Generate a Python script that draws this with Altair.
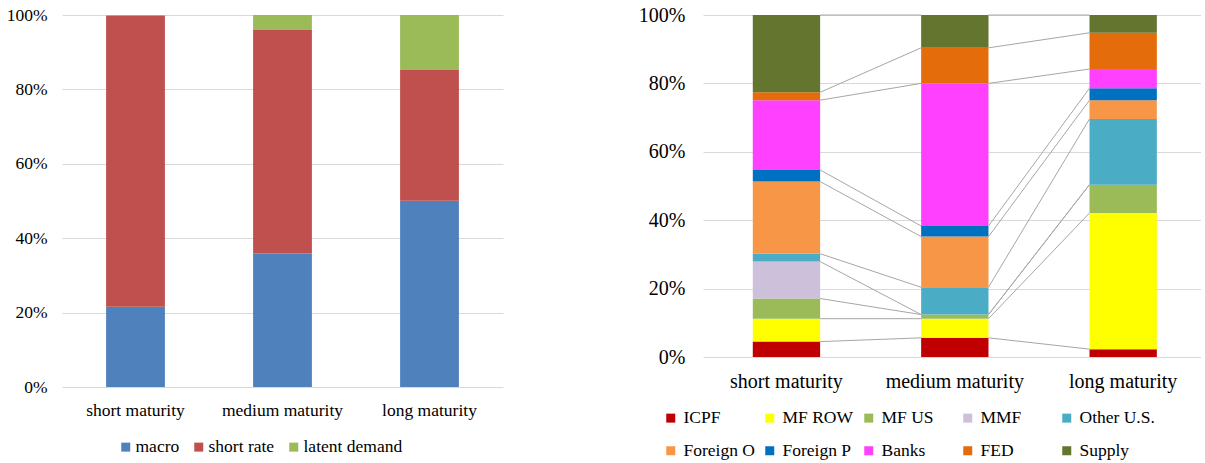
import altair as alt
import pandas as pd

FONT = "Liberation Serif"

maturities = ["short maturity", "medium maturity", "long maturity"]

# Left panel: share of each driver (percent)
factors = ["macro", "short rate", "latent demand"]
macro = [21.6, 35.9, 50.1]
short_rate = [78.1, 60.1, 35.1]
latent_demand = [0.3, 4.0, 14.8]
factor_colors = ["#4F81BD", "#C0504D", "#9BBB59"]

# Right panel: share of each investor group (percent)
investors = ["ICPF", "MF ROW", "MF US", "MMF", "Other U.S.",
             "Foreign O", "Foreign P", "Banks", "FED", "Supply"]
icpf = [4.5, 5.6, 2.3]
mf_row = [6.7, 5.6, 39.8]
mf_us = [5.9, 1.2, 8.3]
mmf = [10.8, 0.0, 0.0]
other_us = [2.3, 8.0, 19.2]
foreign_o = [21.1, 14.8, 5.5]
foreign_p = [3.4, 3.1, 3.5]
banks = [20.4, 41.7, 5.6]
fed = [2.3, 10.4, 10.6]
supply = [22.6, 9.6, 5.2]
investor_colors = ["#C00000", "#FFFF00", "#9BBB59", "#CCC0DA", "#4BACC6",
                   "#F79646", "#0070C0", "#FF40FF", "#E46C0A", "#63752F"]

LEFT_PAD_INNER, LEFT_PAD_OUTER = 0.6, 0.3
RIGHT_PAD_INNER, RIGHT_PAD_OUTER, RIGHT_ALIGN = 0.6, 0.279, 0.53


def stacked(names, values):
    rows = []
    for i, m in enumerate(maturities):
        base = 0.0
        for k, (name, vals) in enumerate(zip(names, values)):
            v = vals[i]
            rows.append(dict(maturity=m, idx=i, series=name, order=k,
                             value=v, y0=base, y1=base + v))
            base += v
    return pd.DataFrame(rows)


def series_lines(df, names, pad_inner, pad_outer, align):
    # Excel-style series lines: join the top of each segment across
    # neighbouring bars, from one bar's right edge to the next bar's left edge
    # (positions in band-step units of the x band scale).
    first = 2 * pad_outer * align
    rows = []
    for name in names:
        tops = df[df.series == name].sort_values("idx").y1.tolist()
        for i in range(len(maturities) - 1):
            rows.append(dict(series=name,
                             xa=first + i + (1 - pad_inner),
                             xb=first + i + 1,
                             ya=tops[i], yb=tops[i + 1]))
    return pd.DataFrame(rows)


def x_axis(size, pad):
    return alt.Axis(title=None, labelAngle=0, domain=False, ticks=False,
                    labelFontSize=size, labelPadding=pad, labelFont=FONT,
                    labelColor="#000000")


def y_axis(size, pad):
    return alt.Axis(values=[0, 20, 40, 60, 80, 100],
                    labelExpr="datum.value + '%'", title=None, domain=False,
                    ticks=False, grid=True, gridColor="#D9D9D9", gridWidth=1,
                    labelFontSize=size, labelPadding=pad, labelFont=FONT,
                    labelColor="#000000")


# ---- left panel ----
left_df = stacked(factors, [macro, short_rate, latent_demand])
left = alt.Chart(left_df).mark_bar().encode(
    x=alt.X("maturity:N", sort=maturities,
            scale=alt.Scale(paddingInner=LEFT_PAD_INNER,
                            paddingOuter=LEFT_PAD_OUTER),
            axis=x_axis(17.5, 14)),
    y=alt.Y("y0:Q", scale=alt.Scale(domain=[0, 100]), axis=y_axis(17.5, 15)),
    y2="y1:Q",
    color=alt.Color(
        "series:N",
        scale=alt.Scale(domain=factors, range=factor_colors),
        legend=alt.Legend(title=None, orient="none", direction="horizontal",
                          legendX=55, legendY=423, symbolType="square",
                          symbolSize=81, symbolStrokeWidth=0,
                          labelFont=FONT, labelFontSize=17.5,
                          labelColor="#000000", labelOffset=1,
                          columnPadding=10),
    ),
).properties(width=441, height=372)

# ---- right panel ----
right_df = stacked(investors, [icpf, mf_row, mf_us, mmf, other_us,
                               foreign_o, foreign_p, banks, fed, supply])
lines_df = series_lines(right_df, investors, RIGHT_PAD_INNER,
                        RIGHT_PAD_OUTER, RIGHT_ALIGN)

right_bars = alt.Chart(right_df).mark_bar().encode(
    x=alt.X("maturity:N", sort=maturities,
            scale=alt.Scale(paddingInner=RIGHT_PAD_INNER,
                            paddingOuter=RIGHT_PAD_OUTER, align=RIGHT_ALIGN),
            axis=x_axis(20, 14)),
    y=alt.Y("y0:Q", scale=alt.Scale(domain=[0, 100]), axis=y_axis(20, 18)),
    y2="y1:Q",
    color=alt.Color(
        "series:N",
        scale=alt.Scale(domain=investors, range=investor_colors),
        legend=alt.Legend(title=None, orient="none", direction="horizontal",
                          columns=5, gridAlign="all",
                          legendX=-41, legendY=394, symbolType="square",
                          symbolSize=81, symbolStrokeWidth=0,
                          labelFont=FONT, labelFontSize=17.5,
                          labelColor="#000000", labelOffset=4,
                          columnPadding=2, rowPadding=14),
    ),
)

right_lines = alt.Chart(lines_df).mark_rule(color="#A6A6A6", strokeWidth=1).encode(
    x=alt.X("xa:Q", scale=alt.Scale(
        domain=[0, len(maturities) - RIGHT_PAD_INNER + 2 * RIGHT_PAD_OUTER],
        nice=False, zero=False), axis=None),
    x2="xb:Q",
    y="ya:Q",
    y2="yb:Q",
)

right = alt.layer(right_bars, right_lines).resolve_scale(
    x="independent").properties(width=498, height=342)

chart = alt.hconcat(left, right, spacing=135).resolve_scale(
    x="independent", y="independent", color="independent"
).configure_view(stroke=None).properties(
    background="white",
    padding={"left": 6, "top": 5, "right": 0, "bottom": 5},
)

chart.save("out.html", embed_options={"renderer": "svg", "actions": False})
